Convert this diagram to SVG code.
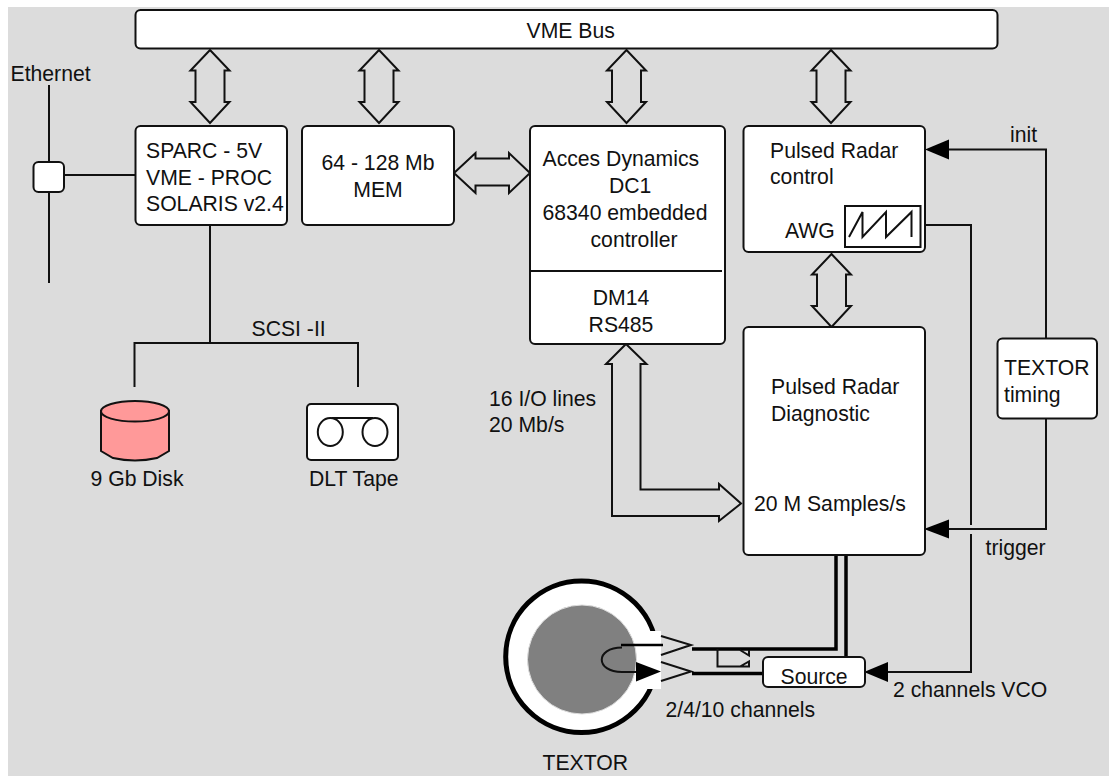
<svg xmlns="http://www.w3.org/2000/svg" width="1109" height="776" viewBox="0 0 1109 776">
<style>
text{font-family:"Liberation Sans",Arial,sans-serif;font-size:21.2px;fill:#111}
.m{text-anchor:middle}
.n{fill:#fff;stroke:#111;stroke-width:2}
.o{fill:none;stroke:#111;stroke-width:2}
.a{fill:none;stroke:#111;stroke-width:2}
.t{fill:none;stroke:#000;stroke-width:3.500}
.h{fill:#000;stroke:none}
</style>
<defs>
<path id="dv" d="M0,0L19.500,20.500H14.500V52H19.500L0,73L-19.500,52H-14.500V20.500H-19.500Z"/>
</defs>
<rect x="8" y="7" width="1101" height="769" fill="#dcdcdc"/>
<g id="connectors">
<use href="#dv" x="210" y="50" class="a"/>
<use href="#dv" x="379" y="50" class="a"/>
<use href="#dv" x="626.500" y="50" class="a"/>
<use href="#dv" x="831" y="50" class="a"/>
<use href="#dv" x="831.500" y="254" class="a"/>
<path class="a" d="M454,173L475.500,153V158.500H509V153L530,173L509,193V185.500H475.500V193Z"/>
<path class="a" d="M626,344L646.500,364H640.500V489.500H719V484L741,503.500L719,521V516H612V364H606Z"/>
<path class="o" d="M49,85V162M49,192V283M64,175H135M210,226V343M134.500,387V343H358V387"/>
<path class="o" d="M920,225H971V525M971,534V672H888"/>
<path class="o" d="M949,149.500H1046V338M1046,419V529H948"/>
<path class="h" d="M925,149.500L949,139.500V159.500Z"/>
<path class="h" d="M924,529L949,519.500V538.500Z"/>
<path class="h" d="M864,672L888,662V682Z"/>
<path class="t" d="M692,649H836V556M692,673.500H763M846,556V657"/>
<path class="o" d="M717.500,649V666.500H749V661.500L740,666.500M749,650V655.500L740,650"/>
</g>
<g id="vme"><rect class="n" x="135.500" y="10" width="862" height="38.500" rx="5"/><text x="526.500" y="37.500">VME Bus</text></g>
<g id="eth"><rect class="n" x="33.500" y="162" width="30.500" height="30" rx="5"/><text x="10.500" y="81">Ethernet</text></g>
<g id="sparc"><rect class="n" x="135.500" y="126" width="151.500" height="99" rx="5"/><text x="146" y="158">SPARC - 5V</text><text x="146" y="184.500">VME - PROC</text><text x="146" y="211">SOLARIS v2.4</text></g>
<g id="mem"><rect class="n" x="302" y="126" width="152" height="99" rx="5"/><text class="m" x="378" y="170">64 - 128 Mb</text><text class="m" x="378" y="196.500">MEM</text></g>
<g id="dc1"><rect class="n" x="530" y="126" width="195" height="218" rx="5"/><path class="o" d="M529,271H722"/><text x="542.500" y="166">Acces Dynamics</text><text x="609" y="193">DC1</text><text x="542.500" y="220">68340 embedded</text><text x="590.500" y="246.500">controller</text><text class="m" x="621" y="305">DM14</text><text class="m" x="621" y="331.500">RS485</text></g>
<g id="control"><rect class="n" x="743.500" y="126" width="181.500" height="126" rx="5"/><text x="770" y="158">Pulsed Radar</text><text x="770" y="184">control</text><text x="785" y="237.500">AWG</text><rect x="845" y="206" width="75.500" height="41" fill="#fff" stroke="#111" stroke-width="2"/><path class="o" d="M849,237L862.500,212V237L886,212V237L911.500,212V237"/></g>
<g id="diag"><rect class="n" x="743.500" y="327" width="181.500" height="228" rx="5"/><text x="771" y="394">Pulsed Radar</text><text x="771" y="420.500">Diagnostic</text><text x="754" y="511">20 M Samples/s</text></g>
<g id="timing"><rect class="n" x="997.500" y="338.500" width="99.500" height="80" rx="5"/><text x="1004" y="374.500">TEXTOR</text><text x="1004" y="401.500">timing</text></g>
<g id="disk"><path d="M101,411V451L113,458Q135,463 157,458L169,451V411Z" fill="#ff9999" stroke="#111" stroke-width="2"/><ellipse cx="135" cy="411.300" rx="34" ry="10.300" fill="#ff9999" stroke="#111" stroke-width="2"/><text x="90.500" y="485.500">9 Gb Disk</text></g>
<g id="tape"><rect class="n" x="307" y="404" width="91" height="56" rx="4"/><ellipse class="o" cx="330.300" cy="432" rx="12.500" ry="14"/><ellipse class="o" cx="375" cy="432" rx="12.500" ry="14"/><path class="o" d="M331.500,418H373"/><text x="309" y="485.500">DLT Tape</text></g>
<g id="textor"><circle cx="581.500" cy="656.700" r="75.800" fill="#fff" stroke="#000" stroke-width="5"/><circle cx="582" cy="659.500" r="54.500" fill="#808080" stroke="#ddd" stroke-width="1"/><rect x="637" y="631" width="24" height="58" fill="#fff"/><path class="o" d="M661,636L691,645L661,655M661,662L691,671.500L661,681M622,647.500C595,647.500 595,672 622,672H636"/><path d="M621,645H663" stroke="#000" stroke-width="2.500" fill="none"/><path class="h" d="M661,671.500L636,662V681.500Z"/><text x="542.500" y="769.500">TEXTOR</text></g>
<g id="source"><rect class="n" x="763" y="657" width="102" height="30" rx="5"/><text x="780.500" y="684">Source</text></g>
<g id="labels"><text x="251.500" y="335.500">SCSI -II</text><text x="489" y="406">16 I/O lines</text><text x="489" y="432">20 Mb/s</text><text x="1010" y="142">init</text><text x="985.500" y="555">trigger</text><text x="665.500" y="716.500">2/4/10 channels</text><text x="893" y="697">2 channels VCO</text></g>
</svg>
